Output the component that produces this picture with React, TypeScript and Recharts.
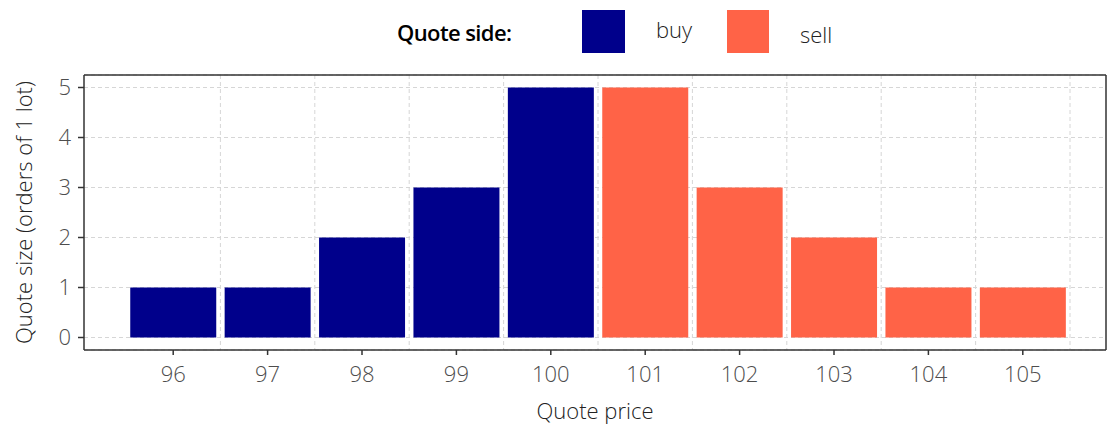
import React from 'react';
import { Bar, BarChart, CartesianGrid, Legend, XAxis, YAxis } from 'recharts';

const prices = ['96', '97', '98', '99', '100', '101', '102', '103', '104', '105'];
const buySizes = [1, 1, 2, 3, 5, null, null, null, null, null];
const sellSizes = [null, null, null, null, null, 5, 3, 2, 1, 1];
const sizeTicks = [0, 1, 2, 3, 4, 5];

const BUY = '#00008B';
const SELL = '#FF6347';
const FONT = '"Open Sans", "Noto Sans", sans-serif';
const PAD_L = 42;
const PAD_R = 36;

const data = prices.map((p, i) => ({ price: p, buy: buySizes[i], sell: sellSizes[i] }));

const LegendBox = () => (
  <div
    style={{
      display: 'flex',
      alignItems: 'center',
      height: 63,
      paddingLeft: 397,
      fontFamily: FONT,
      fontSize: 22,
    }}
  >
    <span style={{ fontWeight: 600, color: '#000', width: 185, letterSpacing: -0.6 }}>Quote side:</span>
    <span style={{ width: 43, height: 43, background: BUY }} />
    <span style={{ marginLeft: 31, width: 71, color: '#222', fontWeight: 300, marginTop: -6 }}>buy</span>
    <span style={{ width: 42, height: 43, background: SELL }} />
    <span style={{ marginLeft: 31, color: '#222', fontWeight: 300, marginTop: 4 }}>sell</span>
  </div>
);

const XTitle = ({ viewBox }: any) => (
  <text
    x={viewBox.x + viewBox.width / 2}
    y={viewBox.y + 60}
    textAnchor="middle"
    dominantBaseline="central"
    fontFamily={FONT}
    fontSize={22}
    fontWeight={300}
    fill="#222"
  >
    Quote price
  </text>
);

const YTitle = ({ viewBox }: any) => {
  const cx = viewBox.x + 23;
  const cy = viewBox.y + viewBox.height / 2;
  return (
    <text
      x={cx}
      y={cy}
      transform={`rotate(-90 ${cx} ${cy})`}
      textAnchor="middle"
      dominantBaseline="central"
      fontFamily={FONT}
      fontSize={22}
      fontWeight={300}
      fill="#222"
    >
      Quote size (orders of 1 lot)
    </text>
  );
};

const boundaryLines = ({ offset }: any) => {
  const start = offset.left + PAD_L;
  const band = (offset.width - PAD_L - PAD_R) / prices.length;
  return prices.map((_, i) => start + band * (i + 1));
};

const tickStyle = { fontFamily: FONT, fontSize: 22, fontWeight: 300, fill: '#4d4d4d' };

export default function App() {
  return (
    <div style={{ position: 'absolute', left: 0, top: 0 }}>
      <BarChart
        width={1107}
        height={425}
        data={data}
        margin={{ top: 0, right: 0, bottom: 0, left: 0 }}
        barCategoryGap="4.5%"
      >
        <Legend
          verticalAlign="top"
          content={<LegendBox />}
          wrapperStyle={{ left: 0, top: 0, width: 1107, height: 74 }}
        />
        <CartesianGrid
          stroke="#d6d6d6"
          strokeDasharray="4 3"
          verticalCoordinatesGenerator={boundaryLines}
        />
        <XAxis
          dataKey="price"
          padding={{ left: PAD_L, right: PAD_R }}
          height={75}
          tick={tickStyle}
          tickSize={5}
          tickMargin={11}
          tickLine={{ stroke: '#333', strokeWidth: 1.5 }}
          axisLine={{ stroke: '#333', strokeWidth: 1.5 }}
          label={<XTitle />}
        />
        <XAxis
          xAxisId="top"
          orientation="top"
          dataKey="price"
          height={1}
          tick={false}
          tickLine={false}
          axisLine={{ stroke: '#333', strokeWidth: 1.5 }}
        />
        <YAxis
          domain={[-0.25, 5.25]}
          ticks={sizeTicks}
          width={84}
          tick={tickStyle}
          tickSize={6}
          tickMargin={7}
          tickLine={{ stroke: '#333', strokeWidth: 1.5 }}
          axisLine={{ stroke: '#333', strokeWidth: 1.5 }}
          label={<YTitle />}
        />
        <YAxis
          yAxisId="right"
          orientation="right"
          domain={[-0.25, 5.25]}
          width={1}
          tick={false}
          tickLine={false}
          axisLine={{ stroke: '#333', strokeWidth: 1.5 }}
        />
        <Bar dataKey="buy" stackId="q" fill={BUY} isAnimationActive={false} />
        <Bar dataKey="sell" stackId="q" fill={SELL} isAnimationActive={false} />
      </BarChart>
    </div>
  );
}
